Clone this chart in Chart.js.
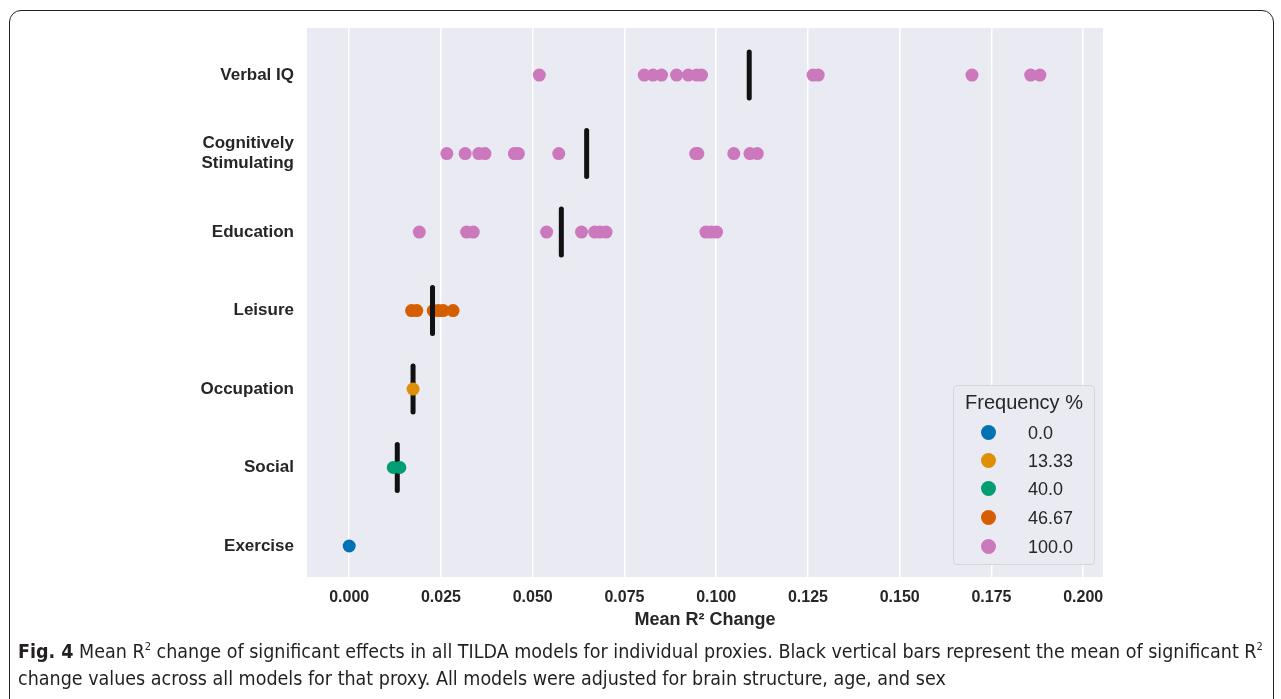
<!DOCTYPE html>
<html>
<head>
<meta charset="utf-8">
<script src="https://cdn.jsdelivr.net/npm/chart.js@4.4.1/dist/chart.umd.min.js"></script>
<style>
  body { margin: 0; background: #fff; width: 1281px; height: 699px; overflow: hidden; position: relative; font-family: "Liberation Sans", Arial, sans-serif; }
  .frame { position: absolute; left: 9px; top: 10px; width: 1263px; height: 740px; border: 1.5px solid #222; border-radius: 12px; }
  .chart-box { position: absolute; left: 0; top: 0; width: 1281px; height: 640px; }
  .legend { position: absolute; left: 953px; top: 385px; width: 142px; height: 180px; box-sizing: border-box; border: 1px solid #d4d4dc; border-radius: 4px; background: #eaeaf2; color: #262626; }
  .legend .title { position: absolute; left: 0; right: 0; top: 5px; text-align: center; font-size: 20px; }
  .legend .item { position: absolute; left: 0; height: 20px; font-size: 18px; }
  .legend .dot { position: absolute; left: 27px; top: 2px; width: 15px; height: 15px; border-radius: 50%; }
  .legend .txt { position: absolute; left: 74px; top: 0; line-height: 20px; white-space: nowrap; }
  .caption { position: absolute; left: 18px; top: 638px; font-family: "Liberation Sans Narrow", "DejaVu Sans Condensed", sans-serif; font-size: 19.5px; color: #231f20; white-space: nowrap; line-height: 27px; }
  .caption sup { font-size: 11px; vertical-align: 8px; line-height: 0; }
</style>
</head>
<body>
<div class="frame"></div>
<div class="chart-box"><canvas id="stripChart"></canvas></div>
<div class="legend" id="legend"><div class="title">Frequency %</div></div>
<div class="caption">
  <div><b>Fig. 4</b> Mean R<sup>2</sup> change of significant effects in all TILDA models for individual proxies. Black vertical bars represent the mean of significant R<sup>2</sup></div>
  <div>change values across all models for that proxy. All models were adjusted for brain structure, age, and sex</div>
</div>
<script>
(() => {
  const proxies = ["Verbal IQ", "Cognitively Stimulating", "Education", "Leisure", "Occupation", "Social", "Exercise"];
  const proxyTickLabels = ["Verbal IQ", ["Cognitively", "Stimulating"], "Education", "Leisure", "Occupation", "Social", "Exercise"];

  const verbalIQ = [0.0518, 0.0804, 0.0828, 0.0851, 0.0892, 0.0924, 0.0947, 0.0960, 0.1264, 0.1278, 0.1697, 0.1857, 0.1882];
  const cognitivelyStimulating = [0.0266, 0.0316, 0.0353, 0.0370, 0.0450, 0.0461, 0.0571, 0.0944, 0.0950, 0.1048, 0.1092, 0.1112];
  const education = [0.0191, 0.0320, 0.0338, 0.0538, 0.0633, 0.0669, 0.0683, 0.0700, 0.0972, 0.0986, 0.1001];
  const leisure = [0.0170, 0.0184, 0.0229, 0.0243, 0.0256, 0.0283];
  const occupation = [0.0174];
  const social = [0.0120, 0.0138];
  const exercise = [0.0];

  const proxyValues = [verbalIQ, cognitivelyStimulating, education, leisure, occupation, social, exercise];
  const proxyFrequency = ["100.0", "100.0", "100.0", "46.67", "13.33", "40.0", "0.0"];
  const proxyMeans = [0.1090, 0.0647, 0.0578, 0.0227, 0.0174, 0.0131, null];

  const frequencyLabels = ["0.0", "13.33", "40.0", "46.67", "100.0"];
  const frequencyColors = ["#0173b2", "#de8f05", "#029e73", "#d55e00", "#cc78bc"];
  const frequencyOrder = [1, 1, 1, 3, 3];

  const xTicks = [0, 0.025, 0.05, 0.075, 0.1, 0.125, 0.15, 0.175, 0.2];

  const AXIS_FONT = '"Liberation Sans", Arial, sans-serif';

  // rows are drawn on a reversed linear axis, one unit per proxy
  function pointsForFrequency(label) {
    const points = [];
    proxies.forEach((proxy, row) => {
      if (proxyFrequency[row] !== label) {
        return;
      }
      proxyValues[row].forEach((value) => points.push({ x: value, y: row }));
    });
    return points;
  }

  const datasets = frequencyLabels.map((label, index) => ({
    label,
    data: pointsForFrequency(label),
    backgroundColor: frequencyColors[index],
    borderWidth: 0,
    pointRadius: 6.5,
    pointHoverRadius: 6.5,
    order: frequencyOrder[index]
  }));

  datasets.push({
    label: "mean",
    data: proxies
      .map((proxy, row) => ({ x: proxyMeans[row], y: row }))
      .filter((point) => point.x !== null),
    pointStyle: "line",
    rotation: 90,
    pointRadius: 23,
    pointHoverRadius: 23,
    borderColor: "#111111",
    borderWidth: 5,
    pointHoverBorderWidth: 5,
    order: 2
  });

  const backgroundPlugin = {
    id: "axesBackground",
    beforeDraw(chart) {
      const { ctx, chartArea } = chart;
      ctx.save();
      ctx.fillStyle = "#eaeaf2";
      ctx.fillRect(chartArea.left, chartArea.top, chartArea.right - chartArea.left, chartArea.bottom - chartArea.top);
      ctx.restore();
    },
    beforeDatasetDraw(chart, args) {
      if (args.meta.label === "mean") {
        chart.ctx.save();
        chart.ctx.lineCap = "round";
      }
    },
    afterDatasetDraw(chart, args) {
      if (args.meta.label === "mean") {
        chart.ctx.restore();
      }
    }
  };

  new Chart(document.getElementById("stripChart").getContext("2d"), {
    type: "scatter",
    data: { datasets },
    plugins: [backgroundPlugin],
    options: {
      responsive: true,
      maintainAspectRatio: false,
      animation: false,
      events: [],
      layout: { padding: { top: 28, right: 178, left: 0, bottom: 0 } },
      plugins: {
        legend: { display: false },
        tooltip: { enabled: false }
      },
      scales: {
        x: {
          type: "linear",
          min: -0.0115,
          max: 0.2054,
          afterBuildTicks: (axis) => {
            axis.ticks = xTicks.map((value) => ({ value }));
          },
          afterFit: (axis) => {
            axis.height = 63;
          },
          grid: { color: "#ffffff", lineWidth: 1.5, drawTicks: false },
          border: { display: false },
          ticks: {
            padding: 11,
            maxRotation: 0,
            color: "#262626",
            font: { family: AXIS_FONT, size: 16, weight: "bold" },
            callback: (value) => Number(value).toFixed(3)
          },
          title: {
            display: true,
            text: "Mean R² Change",
            color: "#262626",
            padding: { top: 0, bottom: 9 },
            font: { family: AXIS_FONT, size: 18, weight: "bold" }
          }
        },
        y: {
          type: "linear",
          reverse: true,
          min: -0.6,
          max: 6.395,
          afterBuildTicks: (axis) => {
            axis.ticks = proxies.map((proxy, row) => ({ value: row }));
          },
          afterFit: (axis) => {
            axis.width = 307;
          },
          grid: { display: false, drawTicks: false },
          border: { display: false },
          ticks: {
            padding: 13,
            color: "#262626",
            font: { family: AXIS_FONT, size: 17, weight: "bold", lineHeight: 1.15 },
            callback: (value) => proxyTickLabels[value]
          }
        }
      }
    }
  });

  const legendEl = document.getElementById("legend");
  const rowTops = [37, 65, 93, 122, 151];
  frequencyLabels.forEach((label, index) => {
    const item = document.createElement("div");
    item.className = "item";
    item.style.top = rowTops[index] + "px";
    item.innerHTML = `<span class="dot" style="background:${frequencyColors[index]}"></span><span class="txt">${label}</span>`;
    legendEl.appendChild(item);
  });
})();
</script>
</body>
</html>
